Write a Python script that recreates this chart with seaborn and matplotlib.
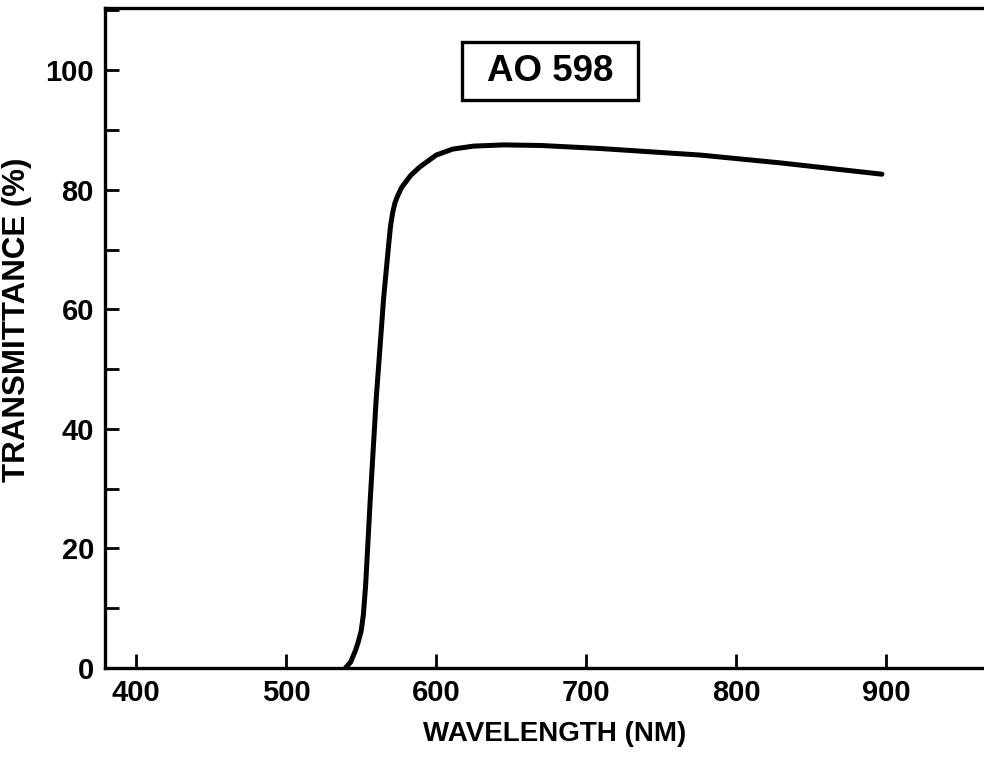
import matplotlib
matplotlib.use("Agg")
import matplotlib.pyplot as plt
from matplotlib.patches import Rectangle
from matplotlib.ticker import MultipleLocator
import seaborn as sns
import pandas as pd

# transmittance curve
wavelength = [539.5, 543, 546, 548, 550, 551.5, 553, 556, 560, 565, 568, 569.5, 571,
              572.5, 574.5, 577, 583, 589, 600, 611, 625, 645, 670, 709, 776, 829, 897]
transmittance = [0, 1, 2.8, 4.3, 6.2, 9, 14, 28, 45, 62, 70, 73.8, 76.2,
                 77.8, 79.1, 80.4, 82.4, 83.8, 85.8, 86.8, 87.3, 87.5, 87.4, 86.9, 85.8, 84.5, 82.6]
x_ticks = [400, 500, 600, 700, 800, 900]
y_ticks = [0, 20, 40, 60, 80, 100]
filter_name = "AO 598"

df = pd.DataFrame({"wl": wavelength, "t": transmittance})

sns.set_style("ticks")
plt.rcParams["font.family"] = ["Liberation Sans", "DejaVu Sans"]
plt.rcParams["font.weight"] = "bold"
plt.rcParams["text.color"] = "black"
plt.rcParams["axes.labelcolor"] = "black"
plt.rcParams["xtick.color"] = "black"
plt.rcParams["ytick.color"] = "black"

fig = plt.figure(figsize=(9.84, 7.61), dpi=100)
ax = fig.add_axes([105 / 984, 93 / 761, 900 / 984, 660 / 761])

sns.lineplot(data=df, x="wl", y="t", ax=ax, color="black", linewidth=3.6)

ax.set_xlim(379.3, 979)
ax.set_ylim(0, 110.4)
ax.set_xticks(x_ticks)
ax.set_yticks(y_ticks)
ax.yaxis.set_minor_locator(MultipleLocator(10))

for s in ax.spines.values():
    s.set_linewidth(2.4)
    s.set_color("black")

ax.tick_params(axis="both", which="both", direction="in", length=10, width=2,
               colors="black", labelsize=21, pad=8)
ax.tick_params(axis="x", which="minor", length=0)
for lab in ax.get_xticklabels() + ax.get_yticklabels():
    lab.set_fontweight("bold")

ax.set_xlabel("WAVELENGTH (NM)", fontsize=20, fontweight="bold", labelpad=10)
ax.set_ylabel("TRANSMITTANCE (%)", fontsize=22.5, fontweight="bold")
ax.yaxis.set_label_coords(-0.081, 0.527)

# filter name box
ax.add_patch(Rectangle((617.3, 95.0), 117.4, 9.7, fill=False, edgecolor="black",
                       linewidth=2.4, zorder=3))
ax.text(676, 99.8, filter_name, ha="center", va="center", fontsize=26.5,
        fontweight="bold", color="black", zorder=4)

fig.savefig("out.png", dpi=100)
